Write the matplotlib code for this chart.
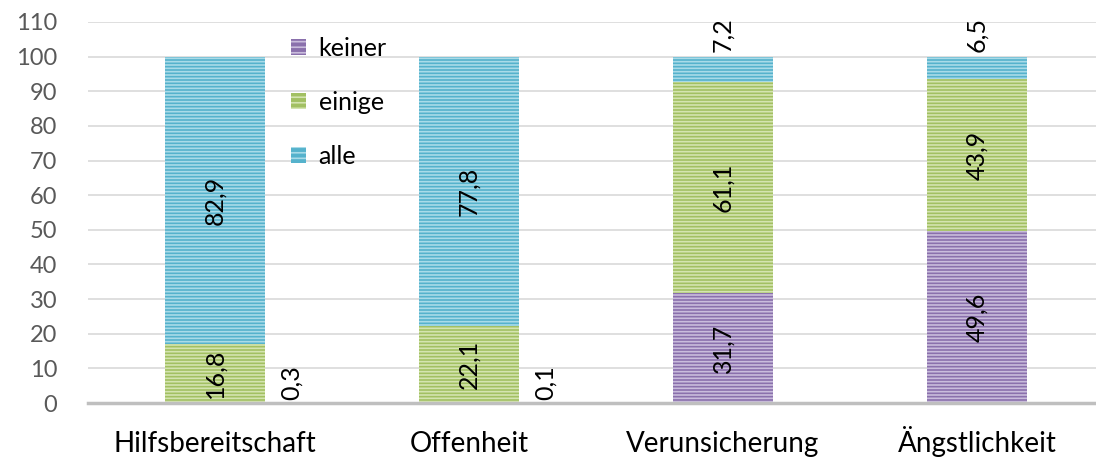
import matplotlib
matplotlib.use("Agg")
import matplotlib.pyplot as plt
from matplotlib.patches import Patch

categories = ["Hilfsbereitschaft", "Offenheit", "Verunsicherung", "Ängstlichkeit"]
keiner = [0.3, 0.1, 31.7, 49.6]
einige = [16.8, 22.1, 61.1, 43.9]
alle = [82.9, 77.8, 7.2, 6.5]

series = [
    ("keiner", keiner, "#8a70ac", "#c9bcdc"),
    ("einige", einige, "#a2c062", "#d4e4b0"),
    ("alle", alle, "#55b2cc", "#a9dbe8"),
]

plt.rcParams["font.family"] = ["Lato", "DejaVu Sans"]
plt.rcParams["hatch.linewidth"] = 1.2

W, H = 1096, 457
fig = plt.figure(figsize=(W / 100, H / 100), dpi=100)
ax = fig.add_axes([88 / W, (H - 403) / H, (W - 88) / W, (403 - 22) / H])

x = list(range(len(categories)))
bw = 0.394
fs = 18
bottoms = [0.0] * len(categories)
for name, vals, face, stripe in series:
    ax.bar(x, vals, bw, bottom=bottoms, color=face, edgecolor=stripe,
           linewidth=0, hatch="-----", zorder=2)
    for i, v in enumerate(vals):
        lab = f"{v:.1f}".replace(".", ",")
        if v >= 10:
            ax.text(i, bottoms[i] + v / 2, lab, rotation=90, ha="center",
                    va="center", fontsize=fs, color="black", zorder=3)
        elif name == "keiner":
            # tiny bottom segment: label pushed to the right of the bar
            ax.text(i + 0.3, bottoms[i] + 1.0, lab, rotation=90, ha="center",
                    va="bottom", fontsize=fs, color="black", zorder=3)
        else:
            # small top segment: label above the bar
            ax.text(i, bottoms[i] + v + 1.2, lab, rotation=90, ha="center",
                    va="bottom", fontsize=fs, color="black", zorder=3)
    bottoms = [b + v for b, v in zip(bottoms, vals)]

ax.set_xlim(-0.5, (W - 88) / 254 - 0.5)
ax.set_ylim(0, 110)
ax.set_yticks(range(0, 111, 10))
ax.set_xticks(x)
ax.set_xticklabels(categories)
ax.tick_params(axis="y", length=0, labelsize=17, labelcolor="#595959", pad=22)
ax.tick_params(axis="x", length=0, labelsize=20, labelcolor="black", pad=35)
for t in ax.get_xticklabels():
    t.set_verticalalignment("baseline")
ax.grid(axis="y", color="#d9d9d9", linewidth=1.2, zorder=0)
ax.set_axisbelow(True)
for s in ["left", "right", "top"]:
    ax.spines[s].set_visible(False)
ax.spines["bottom"].set_color("#bfbfbf")
ax.spines["bottom"].set_linewidth(2.5)
ax.spines["bottom"].set_zorder(4)

handles = [Patch(facecolor=face, edgecolor=stripe, linewidth=0, hatch="---", label=name)
           for name, vals, face, stripe in series]
ax.legend(handles=handles, loc="upper left", bbox_to_anchor=(291 / W, 1 - 37 / H),
          bbox_transform=fig.transFigure, frameon=False, fontsize=fs,
          borderpad=0, borderaxespad=0, handlelength=0.6, handleheight=0.6,
          handletextpad=0.5, labelspacing=1.24)

fig.savefig("out.png", dpi=100)
